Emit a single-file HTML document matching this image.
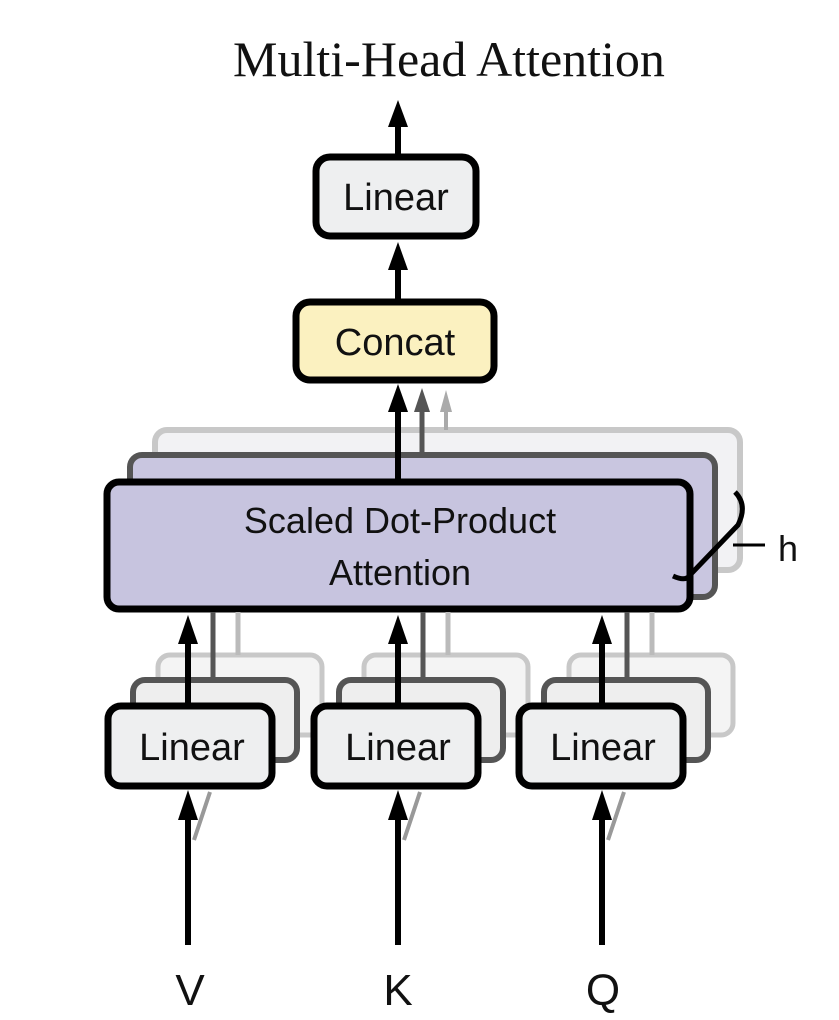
<!DOCTYPE html>
<html><head><style>body{margin:0;background:#fff}svg{display:block}</style></head><body>
<svg width="839" height="1020" viewBox="0 0 839 1020" xmlns="http://www.w3.org/2000/svg">
<defs>
<marker id="a" markerWidth="6" markerHeight="6" refX="3" refY="5" orient="auto" markerUnits="userSpaceOnUse" viewBox="0 0 6 6"><path d="M0,6 L3,0 L6,6 Z" fill="#000"/></marker>
</defs>
<text x="449" y="76" font-family="Liberation Serif, serif" font-size="50" text-anchor="middle" fill="#111">Multi-Head Attention</text>
<g stroke-linecap="butt">
<!-- top arrow -->
<line x1="398" y1="155" x2="398" y2="125" stroke="#000" stroke-width="6"/>
<path d="M388,127 L398,100 L408,127 Z" fill="#000"/>
<rect x="316" y="157" width="160" height="79" rx="14" fill="#eeeff0" stroke="#000" stroke-width="7"/>
<text x="396" y="210" font-family="Liberation Sans, sans-serif" font-size="38" text-anchor="middle" fill="#111">Linear</text>
<line x1="398" y1="302" x2="398" y2="268" stroke="#000" stroke-width="6"/>
<path d="M388,270 L398,242 L408,270 Z" fill="#000"/>
<rect x="296" y="302" width="198" height="78" rx="14" fill="#fbf1c0" stroke="#000" stroke-width="7"/>
<text x="395" y="355" font-family="Liberation Sans, sans-serif" font-size="38" text-anchor="middle" fill="#111">Concat</text>
<!-- back attention boxes -->
<rect x="155" y="430" width="585" height="140" rx="12" fill="#f2f2f4" stroke="#c8c8c8" stroke-width="6"/>
<line x1="446" y1="430" x2="446" y2="410" stroke="#aaa" stroke-width="4"/>
<path d="M440,412 L446,390 L452,412 Z" fill="#aaa"/>
<rect x="130" y="455" width="585" height="142" rx="12" fill="#c9c6e0" stroke="#555" stroke-width="6"/>
<line x1="422" y1="455" x2="422" y2="410" stroke="#555" stroke-width="5"/>
<path d="M414,412 L422,388 L430,412 Z" fill="#555"/>
<line x1="398" y1="482" x2="398" y2="410" stroke="#000" stroke-width="6"/>
<path d="M388,412 L398,384 L408,412 Z" fill="#000"/>
<rect x="107" y="482" width="583" height="127" rx="12" fill="#c7c4df" stroke="#000" stroke-width="7"/>
<text x="400" y="533" font-family="Liberation Sans, sans-serif" font-size="36" text-anchor="middle" fill="#111">Scaled Dot-Product</text>
<text x="400" y="585" font-family="Liberation Sans, sans-serif" font-size="36" text-anchor="middle" fill="#111">Attention</text>
<path d="M735,492 Q748,505 738,525 L690,575 Q686,582 673,576" fill="none" stroke="#000" stroke-width="5"/>
<line x1="733" y1="545" x2="765" y2="545" stroke="#000" stroke-width="3"/>
<text x="778" y="561" font-family="Liberation Sans, sans-serif" font-size="36" fill="#111">h</text>
</g>
<g id="lin">
</g>
<!-- bottom linears -->
<g font-family="Liberation Sans, sans-serif" font-size="38" text-anchor="middle" fill="#111">
<!-- V -->
<rect x="158" y="655" width="164" height="80" rx="12" fill="#f4f4f4" stroke="#c8c8c8" stroke-width="5"/>
<line x1="238" y1="655" x2="238" y2="612" stroke="#bbb" stroke-width="5"/>
<rect x="133" y="680" width="164" height="80" rx="12" fill="#eee" stroke="#555" stroke-width="6"/>
<line x1="213" y1="680" x2="213" y2="612" stroke="#555" stroke-width="5"/>
<rect x="108" y="706" width="164" height="80" rx="13" fill="#eeeff0" stroke="#000" stroke-width="7"/>
<line x1="188" y1="706" x2="188" y2="642" stroke="#000" stroke-width="6"/>
<path d="M178,644 L188,615 L198,644 Z" fill="#000"/>
<text x="192" y="760">Linear</text>
<!-- K -->
<rect x="364" y="655" width="164" height="80" rx="12" fill="#f4f4f4" stroke="#c8c8c8" stroke-width="5"/>
<line x1="448" y1="655" x2="448" y2="612" stroke="#bbb" stroke-width="5"/>
<rect x="339" y="680" width="164" height="80" rx="12" fill="#eee" stroke="#555" stroke-width="6"/>
<line x1="423" y1="680" x2="423" y2="612" stroke="#555" stroke-width="5"/>
<rect x="314" y="706" width="164" height="80" rx="13" fill="#eeeff0" stroke="#000" stroke-width="7"/>
<line x1="398" y1="706" x2="398" y2="642" stroke="#000" stroke-width="6"/>
<path d="M388,644 L398,615 L408,644 Z" fill="#000"/>
<text x="398" y="760">Linear</text>
<!-- Q -->
<rect x="569" y="655" width="164" height="80" rx="12" fill="#f4f4f4" stroke="#c8c8c8" stroke-width="5"/>
<line x1="652" y1="655" x2="652" y2="612" stroke="#bbb" stroke-width="5"/>
<rect x="544" y="680" width="164" height="80" rx="12" fill="#eee" stroke="#555" stroke-width="6"/>
<line x1="627" y1="680" x2="627" y2="612" stroke="#555" stroke-width="5"/>
<rect x="519" y="706" width="164" height="80" rx="13" fill="#eeeff0" stroke="#000" stroke-width="7"/>
<line x1="602" y1="706" x2="602" y2="642" stroke="#000" stroke-width="6"/>
<path d="M592,644 L602,615 L612,644 Z" fill="#000"/>
<text x="603" y="760">Linear</text>
</g>
<!-- inputs -->
<g>
<line x1="194" y1="840" x2="210" y2="792" stroke="#999" stroke-width="4"/>
<line x1="404" y1="840" x2="420" y2="792" stroke="#999" stroke-width="4"/>
<line x1="608" y1="840" x2="624" y2="792" stroke="#999" stroke-width="4"/>
<line x1="188" y1="945" x2="188" y2="818" stroke="#000" stroke-width="6"/>
<path d="M178,820 L188,790 L198,820 Z" fill="#000"/>
<line x1="398" y1="945" x2="398" y2="818" stroke="#000" stroke-width="6"/>
<path d="M388,820 L398,790 L408,820 Z" fill="#000"/>
<line x1="602" y1="945" x2="602" y2="818" stroke="#000" stroke-width="6"/>
<path d="M592,820 L602,790 L612,820 Z" fill="#000"/>
</g>
<g font-family="Liberation Sans, sans-serif" font-size="44" text-anchor="middle" fill="#111">
<text x="190" y="1005">V</text>
<text x="398" y="1005">K</text>
<text x="603" y="1005">Q</text>
</g>
</svg>
</body></html>
